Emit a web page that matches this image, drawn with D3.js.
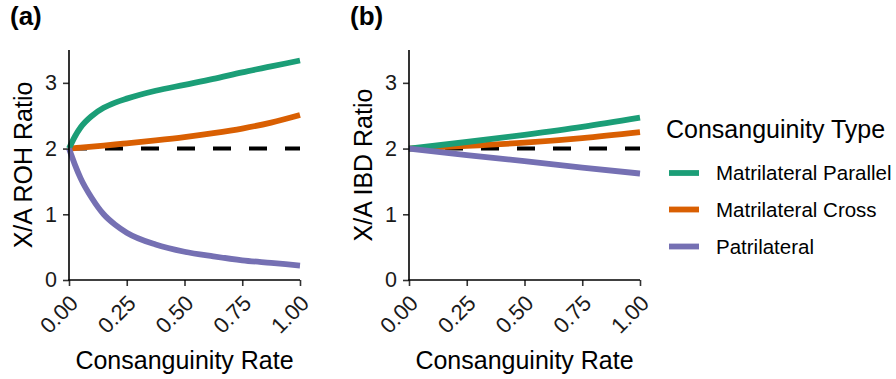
<!DOCTYPE html>
<html>
<head>
<meta charset="utf-8">
<script src="https://cdn.jsdelivr.net/npm/d3@7"></script>
<style>
  html, body { margin: 0; padding: 0; background: #fff; }
  svg { display: block; font-family: "Liberation Sans", Arial, Helvetica, sans-serif; }
</style>
</head>
<body>
<svg id="chart" width="896" height="379"></svg>
<script>
// ---- data ----
const rohRates = [0, 0.025, 0.05, 0.1, 0.15, 0.2, 0.25, 0.375, 0.5, 0.625, 0.75, 0.875, 1];
const rohParallel = [2.0, 2.18, 2.32, 2.50, 2.62, 2.70, 2.76, 2.88, 2.97, 3.06, 3.16, 3.25, 3.34];
const rohCross    = [2.0, 2.007, 2.014, 2.029, 2.045, 2.062, 2.08, 2.125, 2.175, 2.235, 2.305, 2.395, 2.51];
const rohPatri    = [2.0, 1.76, 1.55, 1.24, 1.0, 0.84, 0.72, 0.54, 0.43, 0.36, 0.30, 0.26, 0.22];

const ibdRates = [0, 0.25, 0.5, 0.75, 1];
const ibdParallel = [2.0, 2.10, 2.21, 2.33, 2.47];
const ibdCross    = [2.0, 2.04, 2.09, 2.16, 2.25];
const ibdPatri    = [2.0, 1.90, 1.81, 1.71, 1.62];

const types = ["Matrilateral Parallel", "Matrilateral Cross", "Patrilateral"];
const typeColors = ["#1b9e77", "#d95f02", "#7570b3"];
const xTicks = [0, 0.25, 0.5, 0.75, 1];
const yTicks = [0, 1, 2, 3];
const refValue = 2;

const panels = [
  { tag: "(a)", ylab: "X/A ROH Ratio", rates: rohRates,
    series: { "Matrilateral Parallel": rohParallel, "Matrilateral Cross": rohCross, "Patrilateral": rohPatri } },
  { tag: "(b)", ylab: "X/A IBD Ratio", rates: ibdRates,
    series: { "Matrilateral Parallel": ibdParallel, "Matrilateral Cross": ibdCross, "Patrilateral": ibdPatri } }
];

// ---- layout ----
const svg = d3.select("#chart");
const panelLeft = [69, 409];
const plotW = 231;
const plotTop = 50, plotBottom = 280;
const color = d3.scaleOrdinal().domain(types).range(typeColors);
const drawOrder = ["Matrilateral Cross", "Matrilateral Parallel", "Patrilateral"];
const lw = 5.8;

panels.forEach((p, i) => {
  const x0 = panelLeft[i];
  const x = d3.scaleLinear().domain([0, 1]).range([x0, x0 + plotW]);
  const y = d3.scaleLinear().domain([0, 3.5]).range([plotBottom, plotTop]);

  // reference dashed line
  svg.append("line")
    .attr("x1", x(0)).attr("x2", x(1))
    .attr("y1", y(refValue)).attr("y2", y(refValue))
    .attr("stroke", "#000").attr("stroke-width", 4)
    .attr("stroke-dasharray", "18,18");

  const line = d3.line()
    .x(d => x(d[0])).y(d => y(d[1]))
    .curve(d3.curveMonotoneX);

  drawOrder.forEach(t => {
    const pts = p.rates.map((r, k) => [r, p.series[t][k]]);
    svg.append("path")
      .attr("d", line(pts))
      .attr("fill", "none")
      .attr("stroke", color(t))
      .attr("stroke-width", lw)
      .attr("stroke-linecap", "butt");
  });

  // axes
  const yAxis = svg.append("g")
    .attr("transform", `translate(${x0},0)`)
    .call(d3.axisLeft(y).tickValues(yTicks).tickFormat(d3.format("d")).tickSize(6).tickPadding(6));
  yAxis.select(".domain").remove();
  yAxis.append("line").attr("x1", 0).attr("x2", 0).attr("y1", plotTop).attr("y2", plotBottom + 0.75)
    .attr("stroke", "#000").attr("stroke-width", 1.6);
  yAxis.selectAll(".tick line").attr("stroke", "#333").attr("stroke-width", 1.6);
  yAxis.selectAll(".tick text").attr("font-size", 21.5).attr("fill", "#1a1a1a")
    .attr("font-family", "Liberation Sans, Arial, sans-serif");

  const xAxis = svg.append("g")
    .attr("transform", `translate(0,${plotBottom})`)
    .call(d3.axisBottom(x).tickValues(xTicks).tickFormat(d3.format(".2f")).tickSize(6));
  xAxis.select(".domain").remove();
  xAxis.append("line").attr("x1", x(0) - 0.75).attr("x2", x(1)).attr("y1", 0).attr("y2", 0)
    .attr("stroke", "#000").attr("stroke-width", 1.6);
  xAxis.selectAll(".tick line").attr("stroke", "#333").attr("stroke-width", 1.6);
  xAxis.selectAll(".tick text")
    .attr("font-size", 22).attr("fill", "#1a1a1a")
    .attr("font-family", "Liberation Sans, Arial, sans-serif")
    .attr("text-anchor", "end")
    .attr("dy", null).attr("y", null)
    .attr("transform", "translate(10,24.5) rotate(-45)");

  // axis titles
  svg.append("text")
    .attr("x", (x(0) + x(1)) / 2).attr("y", 369)
    .attr("text-anchor", "middle").attr("font-size", 25).attr("fill", "#000")
    .text("Consanguinity Rate");
  svg.append("text")
    .attr("transform", `translate(${x0 - 37},${(plotTop + plotBottom) / 2}) rotate(-90)`)
    .attr("text-anchor", "middle").attr("font-size", 25).attr("fill", "#000")
    .text(p.ylab);

  // panel tag
  svg.append("text")
    .attr("x", x0 - 59).attr("y", 25)
    .attr("font-size", 26).attr("font-weight", "bold").attr("fill", "#000")
    .text(p.tag);
});

// ---- legend ----
const lg = svg.append("g");
lg.append("text").attr("x", 666).attr("y", 138)
  .attr("font-size", 25).attr("fill", "#000").text("Consanguinity Type");
const legendY = [173, 209.5, 246.5];
types.forEach((t, k) => {
  lg.append("line")
    .attr("x1", 669).attr("x2", 699)
    .attr("y1", legendY[k]).attr("y2", legendY[k])
    .attr("stroke", color(t)).attr("stroke-width", lw);
  lg.append("text")
    .attr("x", 716).attr("y", legendY[k]).attr("dy", "0.35em")
    .attr("font-size", 20.5).attr("fill", "#000").text(t);
});
</script>
</body>
</html>
